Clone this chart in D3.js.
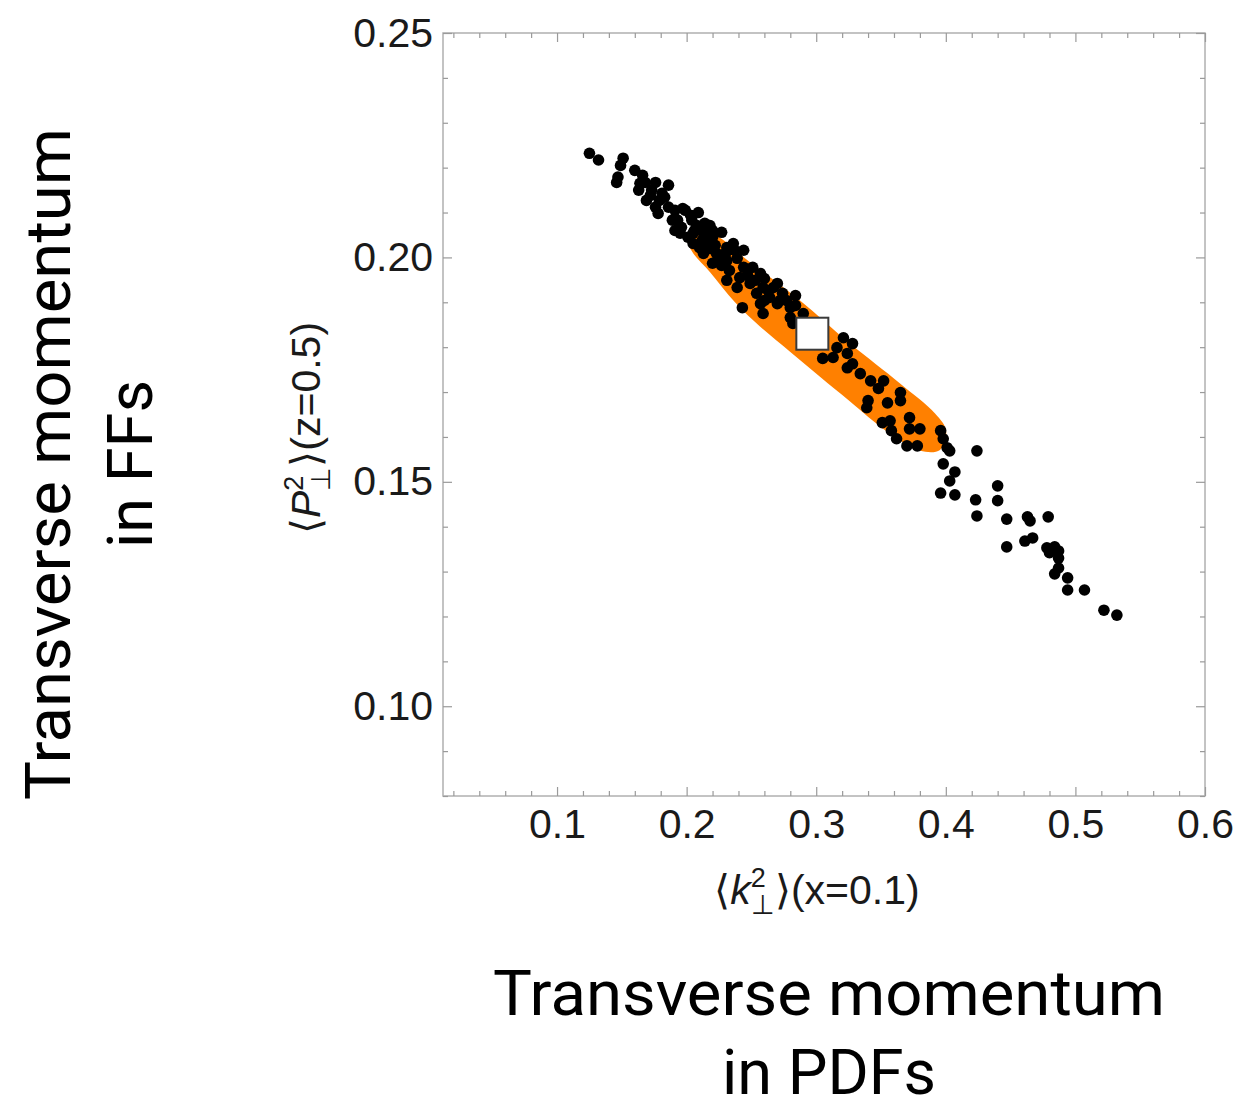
<!DOCTYPE html>
<html>
<head>
<meta charset="utf-8">
<script src="https://cdn.jsdelivr.net/npm/d3@7"></script>
<style>
body { margin: 0; background: #fff; }
</style>
</head>
<body>
<script>
// axis ticks
var xMajor = [0.1, 0.2, 0.3, 0.4, 0.5, 0.6];
var xMinor = [0.02, 0.04, 0.06, 0.08, 0.12, 0.14, 0.16, 0.18, 0.22, 0.24, 0.26, 0.28,
              0.32, 0.34, 0.36, 0.38, 0.42, 0.44, 0.46, 0.48, 0.52, 0.54, 0.56, 0.58];
var yMajor = [0.10, 0.15, 0.20, 0.25];
var yMinor = [0.08, 0.09, 0.11, 0.12, 0.13, 0.14, 0.16, 0.17, 0.18, 0.19, 0.21, 0.22, 0.23, 0.24];
var xTickLabels = ["0.1", "0.2", "0.3", "0.4", "0.5", "0.6"];
var yTickLabels = ["0.10", "0.15", "0.20", "0.25"];

// replicas: [<k_perp^2>(x=0.1), <P_perp^2>(z=0.5)]
var replicas = [
  [0.125,0.2232],[0.132,0.2217],[0.151,0.2221],[0.149,0.2205],[0.146,0.2167],[0.147,0.2179],
  [0.160,0.2194],[0.166,0.2183],[0.168,0.2167],[0.176,0.2167],[0.186,0.2161],[0.163,0.2150],
  [0.173,0.2150],[0.181,0.2143],[0.169,0.2127],[0.176,0.2112],[0.186,0.2112],[0.191,0.2105],
  [0.199,0.2105],[0.178,0.2098],[0.189,0.2083],[0.193,0.2083],[0.196,0.2067],[0.204,0.2083],
  [0.191,0.2060],[0.206,0.2060],[0.214,0.2076],[0.201,0.2045],[0.212,0.2038],[0.220,0.2045],
  [0.197,0.2109],[0.195,0.2054],[0.205,0.2054],[0.213,0.2054],[0.220,0.2060],[0.205,0.2031],
  [0.216,0.2031],[0.213,0.2009],[0.223,0.2009],[0.231,0.2022],[0.236,0.2031],[0.244,0.2016],
  [0.220,0.1987],[0.231,0.1993],[0.239,0.1998],[0.233,0.1971],[0.244,0.1978],[0.251,0.1978],
  [0.257,0.1964],[0.231,0.1949],[0.241,0.1955],[0.239,0.1933],[0.249,0.1942],[0.254,0.1920],
  [0.259,0.1933],[0.270,0.1942],[0.264,0.1911],[0.274,0.1920],[0.257,0.1897],[0.270,0.1897],
  [0.277,0.1904],[0.243,0.1888],[0.267,0.1933],[0.280,0.1888],[0.280,0.1866],[0.290,0.1875],
  [0.282,0.1853],[0.259,0.1875],[0.209,0.2100],[0.227,0.2056],[0.218,0.2020],
  [0.164,0.2165],[0.172,0.2138],[0.179,0.2127],[0.183,0.2134],[0.203,0.2094],[0.208,0.2071],
  [0.218,0.2071],[0.222,0.2027],[0.230,0.2009],[0.237,0.2016],[0.227,0.1982],[0.247,0.1960],
  [0.253,0.1949],[0.260,0.1953],[0.263,0.1926],[0.272,0.1904],[0.284,0.1915],[0.260,0.1904],
  [0.226,0.1998],[0.210,0.2022],[0.284,0.1893],
  [0.321,0.1821],[0.316,0.1799],[0.328,0.1808],[0.305,0.1775],[0.313,0.1777],[0.324,0.1786],
  [0.328,0.1763],[0.324,0.1754],[0.334,0.1741],[0.342,0.1725],[0.352,0.1725],[0.348,0.1708],
  [0.365,0.1699],[0.365,0.1681],[0.340,0.1681],[0.339,0.1665],[0.355,0.1676],[0.372,0.1643],
  [0.351,0.1632],[0.357,0.1636],[0.358,0.1614],[0.372,0.1618],[0.380,0.1618],[0.362,0.1596],
  [0.370,0.1580],[0.378,0.1580],[0.396,0.1614],[0.398,0.1596],[0.401,0.1576],[0.424,0.1569],
  [0.403,0.1569],[0.398,0.1540],[0.407,0.1522],[0.403,0.1502],[0.396,0.1475],[0.407,0.1471],
  [0.423,0.1460],[0.424,0.1424],[0.440,0.1491],[0.440,0.1458],[0.447,0.1417],[0.463,0.1422],
  [0.465,0.1413],[0.479,0.1422],[0.447,0.1355],[0.461,0.1368],[0.467,0.1375],[0.478,0.1353],
  [0.484,0.1355],[0.487,0.1346],[0.480,0.1342],[0.487,0.1330],[0.487,0.1308],[0.484,0.1295],
  [0.494,0.1286],[0.494,0.1259],[0.507,0.1259],[0.522,0.1214],[0.532,0.1203]
];

// 1-sigma region (orange band), upper then lower edge
var bandUpper = [[0.2011,0.2038],[0.2196,0.2051],[0.2489,0.1989],[0.2875,0.1904],[0.3261,0.1808],
                 [0.3647,0.1719],[0.3917,0.1652],[0.4002,0.1614]];
var bandLower = [[0.3955,0.1571],[0.3801,0.1569],[0.3546,0.1612],[0.3261,0.1679],[0.3029,0.1734],
                 [0.2798,0.1790],[0.2566,0.1846],[0.2373,0.1900],[0.2181,0.1967],[0.2042,0.2013]];

var bestFit = [0.297, 0.183];

var W = 1241, H = 1102;
var svg = d3.select("body").append("svg").attr("width", W).attr("height", H);

var x = d3.scaleLinear().domain([0.012, 0.6]).range([443, 1205]);
var y = d3.scaleLinear().domain([0.08, 0.25]).range([796, 33]);

var tickCol = "#9a9a9a";

// band
var band = d3.line().x(function(d) { return x(d[0]); }).y(function(d) { return y(d[1]); })
             .curve(d3.curveCatmullRomClosed.alpha(0.5));
svg.append("path")
   .attr("d", band(bandUpper.concat(bandLower)))
   .attr("fill", "#ff8000");

// dots
svg.selectAll("circle.rep")
   .data(replicas)
   .enter()
   .append("circle")
   .attr("class", "rep")
   .attr("cx", function(d) { return x(d[0]); })
   .attr("cy", function(d) { return y(d[1]); })
   .attr("r", 5.8)
   .style("fill", "#000");

// best fit square
svg.append("rect")
   .attr("x", x(bestFit[0]) - 16)
   .attr("y", y(bestFit[1]) - 16)
   .attr("width", 32).attr("height", 32)
   .attr("fill", "#fff")
   .attr("stroke", "#3a3a3a")
   .attr("stroke-width", 2);

// frame
svg.append("rect")
   .attr("x", 443).attr("y", 33).attr("width", 762).attr("height", 763)
   .attr("fill", "none").attr("stroke", "#b0b0b0").attr("stroke-width", 1.5);

function tickAxis(axis, tx, ty, showLabels, pad) {
  var g = svg.append("g").attr("transform", "translate(" + tx + "," + ty + ")").call(axis.tickPadding(pad));
  g.select(".domain").remove();
  g.selectAll(".tick line").attr("stroke", tickCol).attr("stroke-width", 1.2);
  if (!showLabels) g.selectAll(".tick text").remove();
  return g;
}

// inward ticks on all four sides
tickAxis(d3.axisBottom(x).tickValues(xMinor).tickSize(-5), 0, 796, false, 0);
tickAxis(d3.axisTop(x).tickValues(xMinor).tickSize(-5), 0, 33, false, 0);
tickAxis(d3.axisTop(x).tickValues(xMajor).tickSize(-9), 0, 33, false, 0);
tickAxis(d3.axisLeft(y).tickValues(yMinor).tickSize(-5), 443, 0, false, 0);
tickAxis(d3.axisRight(y).tickValues(yMinor).tickSize(-5), 1205, 0, false, 0);
tickAxis(d3.axisRight(y).tickValues(yMajor).tickSize(-9), 1205, 0, false, 0);

var gx = tickAxis(d3.axisBottom(x).tickValues(xMajor).tickSize(-9)
                  .tickFormat(function(d, i) { return xTickLabels[i]; }), 0, 796, true, 13);
var gy = tickAxis(d3.axisLeft(y).tickValues(yMajor).tickSize(-9)
                  .tickFormat(function(d, i) { return yTickLabels[i]; }), 443, 0, true, 10);

[gx, gy].forEach(function(g) {
  g.selectAll(".tick text")
   .style("font-family", "'Liberation Sans', Arial, sans-serif")
   .style("font-size", "41px")
   .attr("fill", "#1a1a1a");
});

// axis titles with angle brackets and perp sub/superscripts
function bracketLabel(g, sym, rest) {
  var t = g.append("text")
    .attr("text-anchor", "middle")
    .style("font-family", "'Liberation Sans', Arial, sans-serif")
    .style("font-size", "41px")
    .attr("fill", "#1a1a1a");
  t.append("tspan").text("\u27E8");
  t.append("tspan").style("font-style", "italic").text(sym);
  t.append("tspan").attr("dy", -17).style("font-size", "27px").text("2");
  t.append("tspan").attr("dx", -15).attr("dy", 27).style("font-size", "27px").text("\u22A5");
  t.append("tspan").attr("dy", -10).text("\u27E9" + rest);
  return t;
}

bracketLabel(svg.append("g").attr("transform", "translate(817,904)"), "k", "(x=0.1)");
bracketLabel(svg.append("g").attr("transform", "translate(320,428) rotate(-90)"), "P", "(z=0.5)");

// big annotation texts
var bigFont = "Roboto, 'DejaVu Sans', sans-serif";
function bigText(g, lines, yPos) {
  lines.forEach(function(s, i) {
    var t = g.append("text")
      .attr("x", 0).attr("y", yPos[i])
      .attr("text-anchor", "middle")
      .style("font-family", bigFont)
      .style("font-size", "63px")
      .attr("fill", "#000")
      .text(s);
    if (i === 0) t.attr("textLength", 672).attr("lengthAdjust", "spacingAndGlyphs");
  });
}

bigText(svg.append("g").attr("transform", "translate(829,0)"),
        ["Transverse momentum", "in PDFs"], [1015, 1094]);
bigText(svg.append("g").attr("transform", "translate(0,464) rotate(-90)"),
        ["Transverse momentum", "in FFs"], [70, 152]);
</script>
</body>
</html>
